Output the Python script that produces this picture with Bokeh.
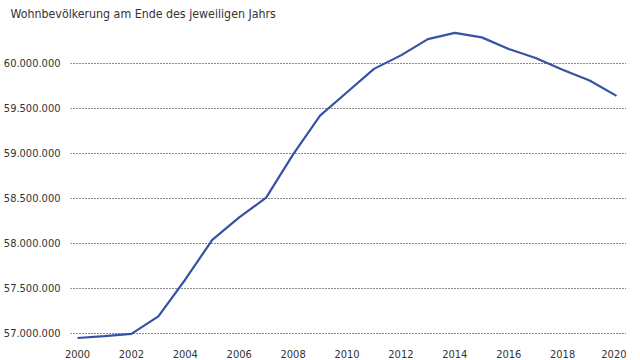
from bokeh.plotting import figure
from bokeh.models import Range1d, FixedTicker, CustomJSTickFormatter, Title
from bokeh.embed import file_html
from bokeh.resources import INLINE

years = list(range(2000, 2021))
population = [56950000, 56970000, 56995000, 57190000, 57600000, 58040000, 58290000,
              58510000, 58990000, 59420000, 59680000, 59940000, 60090000, 60270000,
              60340000, 60290000, 60160000, 60060000, 59930000, 59810000, 59640000]
y_ticks = [57000000, 57500000, 58000000, 58500000, 59000000, 59500000, 60000000]
x_ticks = list(range(2000, 2021, 2))
title_text = "Wohnbevölkerung am Ende des jeweiligen Jahrs"

FONT = "DejaVu Sans Condensed"

p = figure(frame_width=556, frame_height=315, output_backend="svg", toolbar_location=None,
           x_range=Range1d(1999.74, 2020.37), y_range=Range1d(56922000, 60422000),
           min_border_left=63, min_border_right=0, min_border_top=22, min_border_bottom=0)
p.outline_line_color = None

t = Title(text=title_text, align="left", offset=-60, text_font=FONT,
          text_font_size="12.3px", text_font_style="normal", text_color="#333333",
          standoff=9)
p.add_layout(t, "above")

p.line(years, population, line_color="#3651a5", line_width=2.2)

p.xgrid.grid_line_color = None
p.ygrid.grid_line_color = "#111111"
p.ygrid.grid_line_dash = "1 2"
p.ygrid.grid_line_width = 1

for ax in (p.xaxis[0], p.yaxis[0]):
    ax.axis_line_color = None
    ax.major_tick_line_color = None
    ax.minor_tick_line_color = None
    ax.major_label_text_font = FONT
    ax.major_label_text_font_size = "11px"
    ax.major_label_text_color = "#333333"

p.xaxis.ticker = FixedTicker(ticks=x_ticks)
p.yaxis.ticker = FixedTicker(ticks=y_ticks)
p.yaxis.major_label_standoff = 4
p.xaxis.major_label_standoff = 3
p.yaxis.formatter = CustomJSTickFormatter(
    code="return Math.round(tick).toString().replace(/\\B(?=(\\d{3})+(?!\\d))/g, '.');")

open("out.html", "w").write(file_html(p, INLINE))
